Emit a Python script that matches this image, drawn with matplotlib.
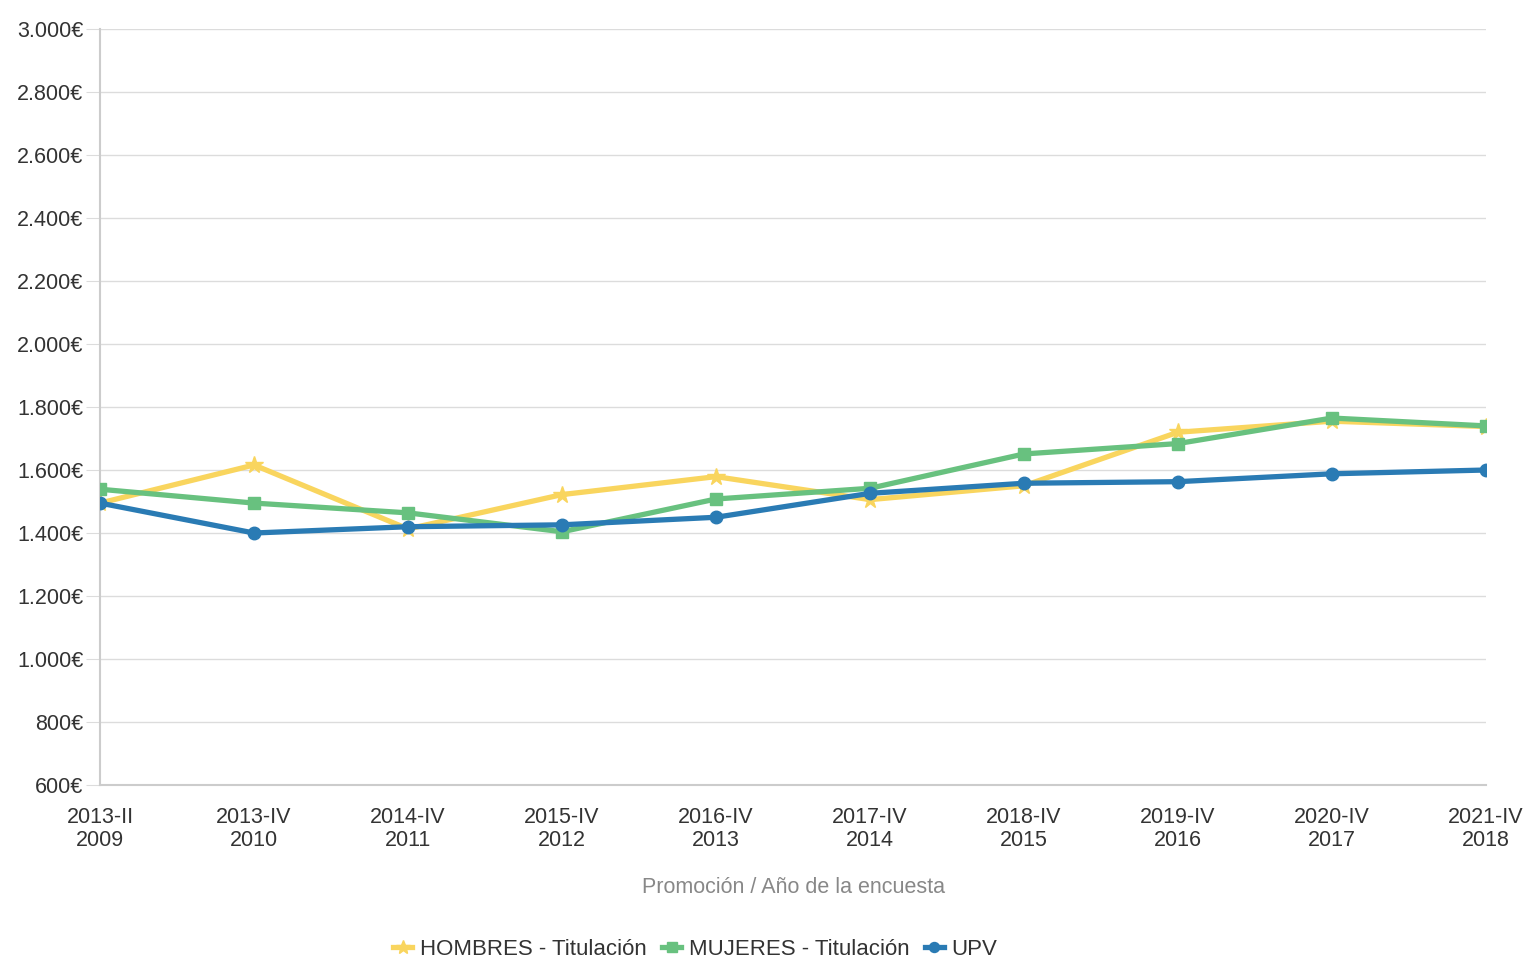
import matplotlib.pyplot as plt
from matplotlib.ticker import FuncFormatter

plt.rcParams['font.family'] = ['Liberation Sans', 'DejaVu Sans']

# Data
promociones = ['2013-II', '2013-IV', '2014-IV', '2015-IV', '2016-IV',
               '2017-IV', '2018-IV', '2019-IV', '2020-IV', '2021-IV']
anios = ['2009', '2010', '2011', '2012', '2013',
         '2014', '2015', '2016', '2017', '2018']
hombres = [1495, 1616, 1413, 1522, 1579, 1506, 1550, 1720, 1755, 1738]
mujeres = [1539, 1495, 1464, 1404, 1508, 1542, 1651, 1684, 1765, 1740]
upv = [1495, 1400, 1420, 1426, 1450, 1526, 1558, 1563, 1588, 1600]

yellow = '#f9d55e'
green = '#68c17f'
blue = '#2a7bb4'

fig = plt.figure(figsize=(15.25, 9.57), dpi=100)
ax = fig.add_axes([0.0656, 0.1797, 0.9088, 0.79])

x = list(range(len(promociones)))
ax.plot(x, hombres, color=yellow, lw=3.8, marker='*', ms=13, label='HOMBRES - Titulación', zorder=3)
ax.plot(x, mujeres, color=green, lw=3.8, marker='s', ms=9, label='MUJERES - Titulación', zorder=4)
ax.plot(x, upv, color=blue, lw=3.8, marker='o', ms=9, label='UPV', zorder=5)

ax.set_xlim(0, len(x) - 1)
ax.set_ylim(600, 3000)
ax.set_yticks(range(600, 3001, 200))
ax.yaxis.set_major_formatter(FuncFormatter(lambda v, p: f"{int(v):,}€".replace(',', '.')))
ax.set_xticks(x)
ax.set_xticklabels([f"{p}\n{a}" for p, a in zip(promociones, anios)], linespacing=1.1)

ax.grid(axis='y', color='#dcdcdc', lw=1)
ax.set_axisbelow(True)
for s in ['top', 'right']:
    ax.spines[s].set_visible(False)
ax.spines['left'].set_color('#cccccc')
ax.spines['bottom'].set_color('#cccccc')
ax.spines['left'].set_linewidth(1.5)
ax.spines['bottom'].set_linewidth(1.5)
ax.tick_params(axis='y', length=10, color='#dcdcdc', labelsize=15.5, labelcolor='#333333', pad=2)
ax.tick_params(axis='x', length=0, labelsize=15.5, labelcolor='#333333', pad=16)

ax.set_xlabel('Promoción / Año de la encuesta', fontsize=15.5, color='#888888', labelpad=19)

fig.legend(loc='lower center', bbox_to_anchor=(0.456, -0.024), ncol=3, frameon=False,
           fontsize=16, handlelength=0.85, handletextpad=0.35, columnspacing=0.7,
           labelcolor='#333333', markerscale=0.8)

plt.savefig('out.png', dpi=100)
plt.close()
